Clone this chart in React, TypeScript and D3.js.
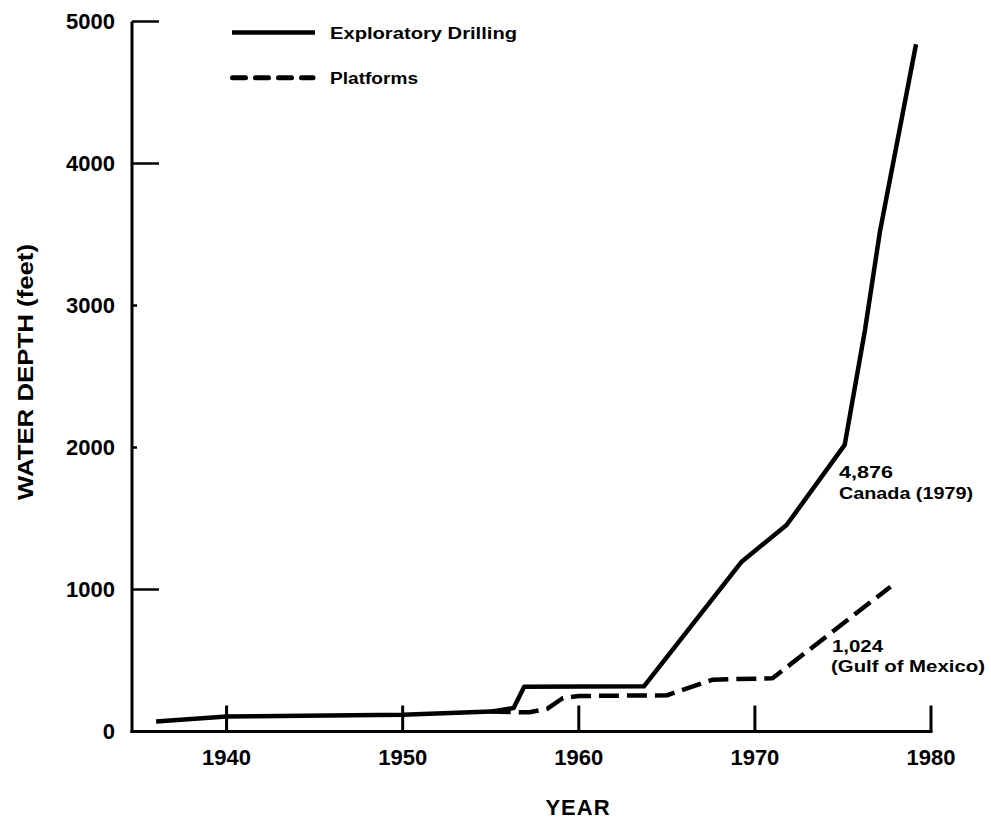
import React from "react";
import * as d3 from "d3";

const drillingYears = [1936, 1940, 1950, 1955, 1956.3, 1956.9, 1963.7, 1969.25, 1971.8, 1975.1, 1976.25, 1977.1, 1979.15];
const drillingDepth = [70, 105, 118, 140, 165, 315, 318, 1196, 1454, 2018, 2827, 3520, 4840];

const platformYears = [1955, 1957.2, 1958.2, 1959.1, 1960, 1965, 1967.6, 1971, 1977.7];
const platformDepth = [140, 135, 160, 236, 250, 255, 365, 375, 1020];

const xTicks = [1940, 1950, 1960, 1970, 1980];
const yTicks = [0, 1000, 2000, 3000, 4000, 5000];
const yLongTicks = [1000, 4000, 5000];

const legendLabels = ["Exploratory Drilling", "Platforms"];
const drillNote = ["4,876", "Canada (1979)"];
const platformNote = ["1,024", "(Gulf of Mexico)"];

export default function App() {
  const W = 991, H = 821;
  const x = d3.scaleLinear().domain([1934.63, 1980]).range([132, 931]);
  const y = d3.scaleLinear().domain([0, 5000]).range([731.5, 21.5]);
  const line = d3.line<[number, number]>().x(d => x(d[0])).y(d => y(d[1]));
  const drill = drillingYears.map((v, i) => [v, drillingDepth[i]] as [number, number]);
  const plat = platformYears.map((v, i) => [v, platformDepth[i]] as [number, number]);
  const font = "'Liberation Sans', Arial, Helvetica, sans-serif";

  return (
    <div style={{ position: "absolute", left: 0, top: 0 }}>
      <svg width={W} height={H} style={{ display: "block", background: "#fff" }} fontFamily={font}>
        {/* axes */}
        <line x1={x.range()[0]} x2={x.range()[0]} y1={y(5000)} y2={y(0) + 1.5} stroke="#000" strokeWidth={3} />
        <line x1={x.range()[0] - 1.5} x2={x(1980) + 1.5} y1={y(0)} y2={y(0)} stroke="#000" strokeWidth={3} />
        {xTicks.map(t => (
          <g key={"xt" + t}>
            <line x1={x(t)} x2={x(t)} y1={y(0)} y2={y(0) - 26} stroke="#000" strokeWidth={3} />
            <text x={x(t)} y={765} textAnchor="middle" fontSize={22} fontWeight="bold">{t}</text>
          </g>
        ))}
        {yTicks.map(t => (
          <g key={"yt" + t}>
            {t > 0 && (
              <line x1={x.range()[0]} x2={x.range()[0] + (yLongTicks.includes(t) ? 27 : 5)} y1={y(t)} y2={y(t)} stroke="#000" strokeWidth={2.5} />
            )}
            <text x={115} y={y(t)} dy="0.36em" textAnchor="end" fontSize={22} fontWeight="bold">{t}</text>
          </g>
        ))}
        <text x={578} y={815} textAnchor="middle" fontSize={22} fontWeight="bold" letterSpacing={1}>YEAR</text>
        <text transform="translate(33,372) rotate(-90)" textAnchor="middle" fontSize={22} fontWeight="bold"
          textLength={256} lengthAdjust="spacingAndGlyphs">WATER DEPTH (feet)</text>

        {/* data lines */}
        <path d={line(drill) || ""} fill="none" stroke="#000" strokeWidth={4.5} strokeLinejoin="round" />
        <path d={line(plat) || ""} fill="none" stroke="#000" strokeWidth={4.5} strokeDasharray="20 8" strokeLinejoin="round" />

        {/* legend */}
        <line x1={232} x2={315} y1={32.5} y2={32.5} stroke="#000" strokeWidth={4.5} />
        <line x1={232.5} x2={313} y1={77.7} y2={77.7} stroke="#000" strokeWidth={5} strokeDasharray="13 10" strokeLinecap="round" />
        <text x={330} y={38.5} fontSize={16} fontWeight="bold" textLength={187} lengthAdjust="spacingAndGlyphs">{legendLabels[0]}</text>
        <text x={330} y={83.5} fontSize={16} fontWeight="bold" textLength={88} lengthAdjust="spacingAndGlyphs">{legendLabels[1]}</text>

        {/* annotations */}
        <text x={839} y={478} fontSize={16} fontWeight="bold" textLength={54} lengthAdjust="spacingAndGlyphs">{drillNote[0]}</text>
        <text x={839} y={499} fontSize={16} fontWeight="bold" textLength={134} lengthAdjust="spacingAndGlyphs">{drillNote[1]}</text>
        <text x={832} y={652} fontSize={16} fontWeight="bold" textLength={51} lengthAdjust="spacingAndGlyphs">{platformNote[0]}</text>
        <text x={831} y={672} fontSize={16} fontWeight="bold" textLength={154} lengthAdjust="spacingAndGlyphs">{platformNote[1]}</text>
      </svg>
    </div>
  );
}
